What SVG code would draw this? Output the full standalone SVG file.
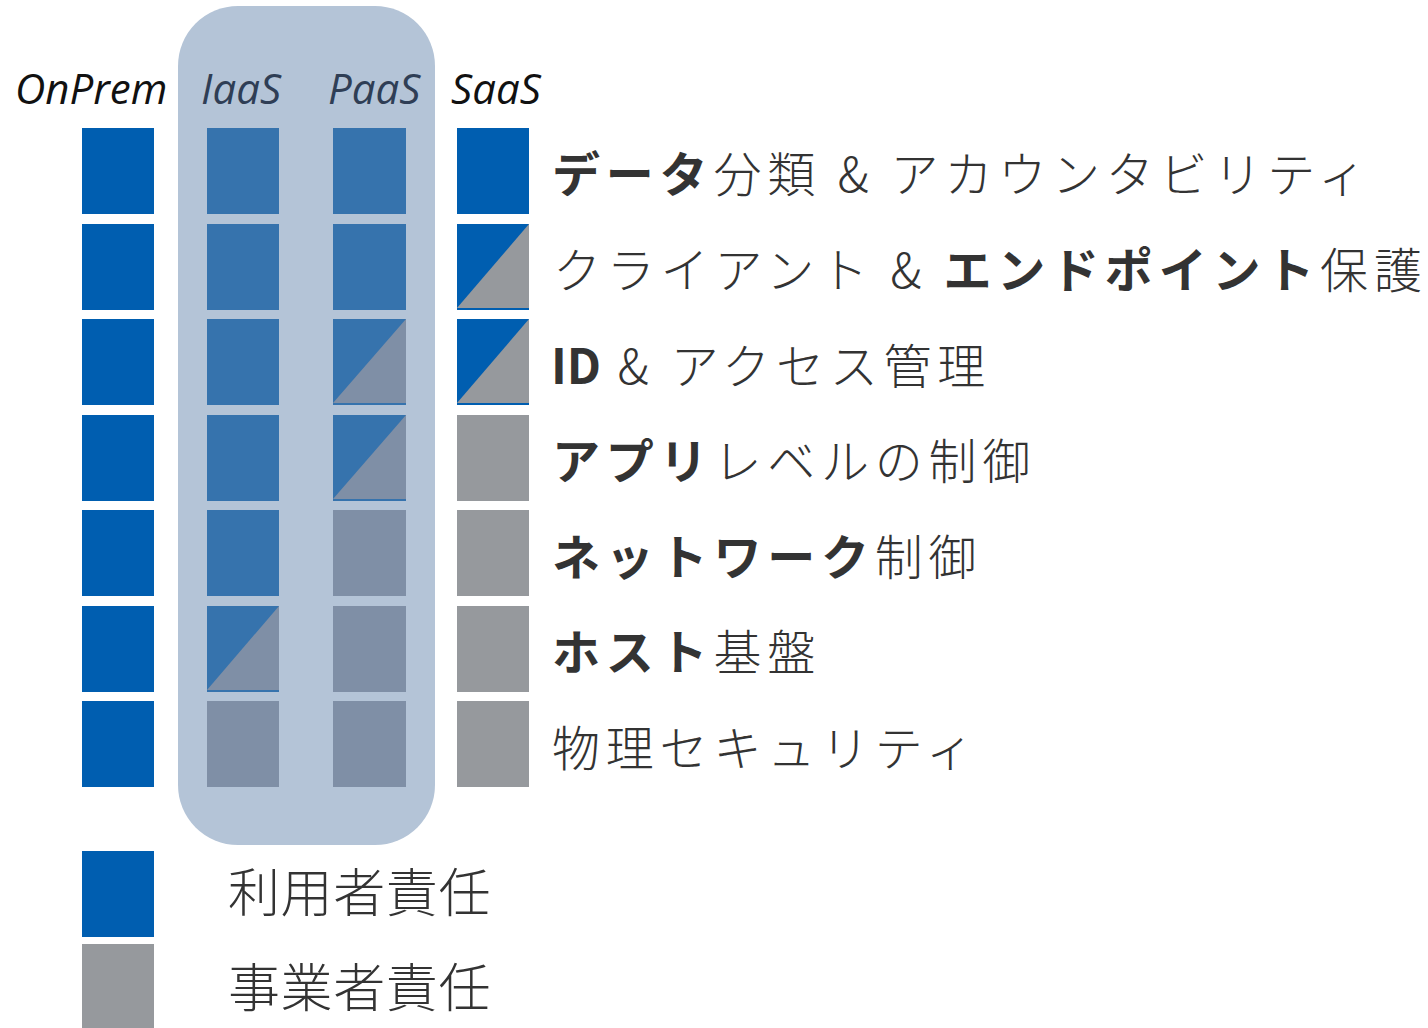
<svg xmlns="http://www.w3.org/2000/svg" width="1428" height="1028" viewBox="0 0 1428 1028">
<style>
.hd{font-family:"Open Sans","Noto Sans",sans-serif;font-style:italic;font-size:42px}
.lb{font-family:"Noto Sans CJK JP","Noto Sans",sans-serif;font-size:48px;fill:#333333;font-weight:300;letter-spacing:5.8px}
.lg{font-family:"Noto Sans CJK JP","Noto Sans",sans-serif;font-size:52px;fill:#333333;font-weight:300;letter-spacing:0.6px}
.b{font-weight:bold}
.t{letter-spacing:0}
.u{fill:#005EB0}
.p{fill:#96999D}
.ui{fill:#3673AD}
.pi{fill:#7F8FA6}
</style>
<rect x="178" y="6" width="257" height="839" rx="60" fill="#B4C4D7"/>
<g id="headers">
<text class="hd" x="15" y="104" fill="#111">OnPrem</text>
<text class="hd" x="201" y="104" fill="#2F3E55">IaaS</text>
<text class="hd" x="328" y="104" fill="#2F3E55">PaaS</text>
<text class="hd" x="451" y="104" fill="#111">SaaS</text>
</g>
<g id="onprem">
<rect class="u" x="82" y="128" width="72" height="86"/>
<rect class="u" x="82" y="224" width="72" height="86"/>
<rect class="u" x="82" y="319" width="72" height="86"/>
<rect class="u" x="82" y="415" width="72" height="86"/>
<rect class="u" x="82" y="510" width="72" height="86"/>
<rect class="u" x="82" y="606" width="72" height="86"/>
<rect class="u" x="82" y="701" width="72" height="86"/>
</g>
<g id="iaas">
<rect class="ui" x="207" y="128" width="72" height="86"/>
<rect class="ui" x="207" y="224" width="72" height="86"/>
<rect class="ui" x="207" y="319" width="72" height="86"/>
<rect class="ui" x="207" y="415" width="72" height="86"/>
<rect class="ui" x="207" y="510" width="72" height="86"/>
<rect class="ui" x="207" y="606" width="72" height="86"/>
<polygon class="pi" points="279,606 279,690 207,690"/>
<rect class="pi" x="207" y="701" width="72" height="86"/>
</g>
<g id="paas">
<rect class="ui" x="333" y="128" width="73" height="86"/>
<rect class="ui" x="333" y="224" width="73" height="86"/>
<rect class="ui" x="333" y="319" width="73" height="86"/>
<polygon class="pi" points="406,319 406,403 333,403"/>
<rect class="ui" x="333" y="415" width="73" height="86"/>
<polygon class="pi" points="406,415 406,499 333,499"/>
<rect class="pi" x="333" y="510" width="73" height="86"/>
<rect class="pi" x="333" y="606" width="73" height="86"/>
<rect class="pi" x="333" y="701" width="73" height="86"/>
</g>
<g id="saas">
<rect class="u" x="457" y="128" width="72" height="86"/>
<rect class="u" x="457" y="224" width="72" height="86"/>
<polygon class="p" points="529,224 529,308 457,308"/>
<rect class="u" x="457" y="319" width="72" height="86"/>
<polygon class="p" points="529,319 529,403 457,403"/>
<rect class="p" x="457" y="415" width="72" height="86"/>
<rect class="p" x="457" y="510" width="72" height="86"/>
<rect class="p" x="457" y="606" width="72" height="86"/>
<rect class="p" x="457" y="701" width="72" height="86"/>
</g>
<g id="labels">
<text class="lb" x="552" y="192"><tspan class="b">データ</tspan>分類 &amp; アカウンタビリティ</text>
<text class="lb" x="553" y="288">クライアント &amp; <tspan class="b">エンドポイント</tspan>保護</text>
<text class="lb" x="551" y="384"><tspan class="b t">ID</tspan> &amp; アクセス管理</text>
<text class="lb" x="552" y="479"><tspan class="b">アプリ</tspan>レベルの制御</text>
<text class="lb" x="552" y="575"><tspan class="b">ネットワーク</tspan>制御</text>
<text class="lb" x="552" y="670"><tspan class="b">ホスト</tspan>基盤</text>
<text class="lb" x="552" y="766">物理セキュリティ</text>
</g>
<g id="legend">
<rect class="u" x="82" y="851" width="72" height="86"/>
<rect class="p" x="82" y="944" width="72" height="84"/>
<text class="lg" x="228" y="912">利用者責任</text>
<text class="lg" x="228" y="1007">事業者責任</text>
</g>
</svg>
